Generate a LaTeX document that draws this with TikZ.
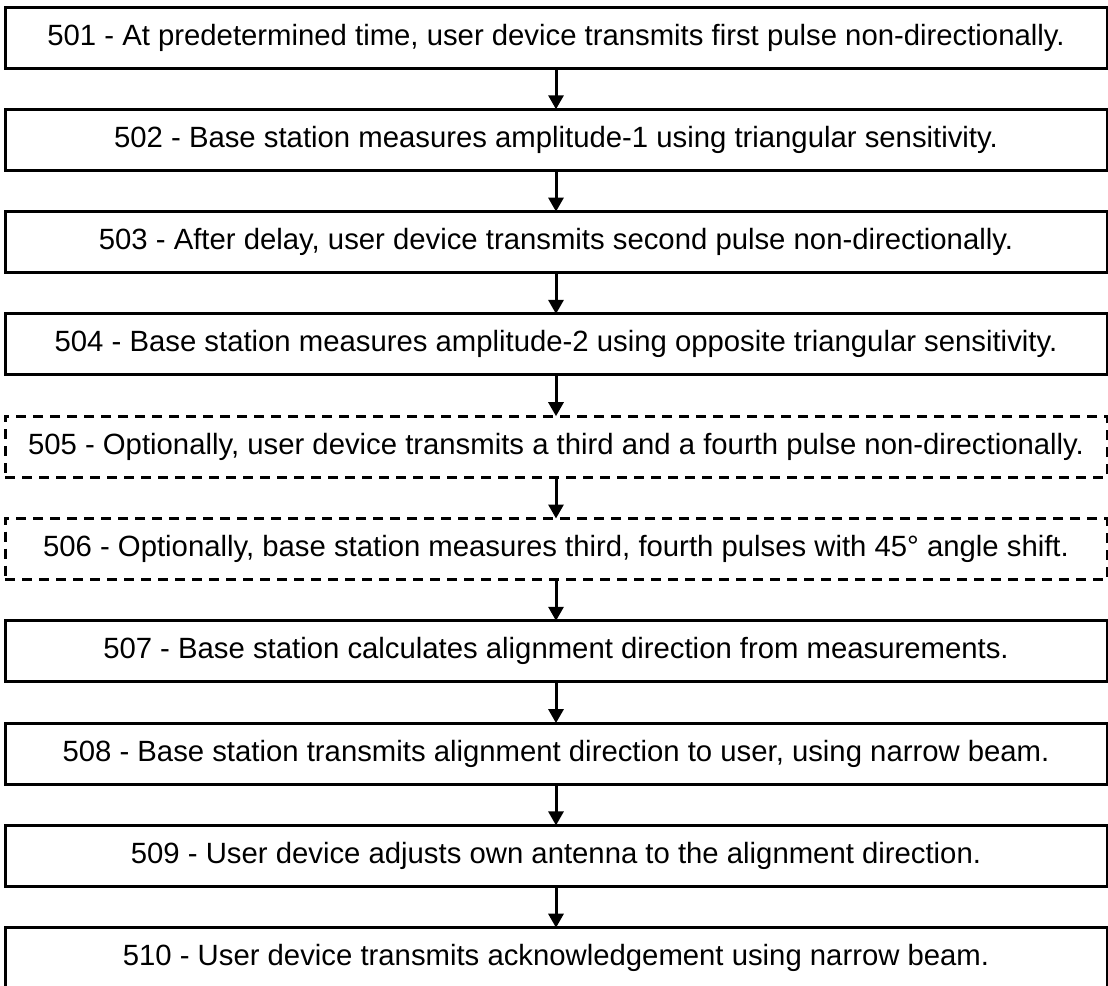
\documentclass[tikz,border=0pt]{standalone}
\usepackage{fontspec}
\setmainfont{Liberation Sans}
\usetikzlibrary{arrows.meta,positioning}

\tikzset{
  stepbox/.style={draw,line width=3pt,minimum width=1102pt,minimum height=61pt,
    inner sep=0pt,outer sep=0pt,font=\fontsize{29.3}{34}\selectfont},
  optbox/.style={stepbox,dash pattern=on 10pt off 7pt},
  flow/.style={line width=3pt,-{Triangle[width=15pt,length=14pt]}}
}

\begin{document}
\begin{tikzpicture}[x=1pt,y=1pt,node distance=41.3pt]
\useasboundingbox (0,0) rectangle (1108,-985);
% steps
\node[stepbox] (s501) at (556,-37.5) {501 - At predetermined time, user device transmits first pulse non-directionally.};
\node[stepbox,below=of s501] (s502) {502 - Base station measures amplitude-1 using triangular sensitivity.};
\node[stepbox,below=of s502] (s503) {503 - After delay, user device transmits second pulse non-directionally.};
\node[stepbox,below=of s503] (s504) {504 - Base station measures amplitude-2 using opposite triangular sensitivity.};
\node[optbox,below=of s504] (s505) {505 - Optionally, user device transmits a third and a fourth pulse non-directionally.};
\node[optbox,below=of s505] (s506) {506 - Optionally, base station measures third, fourth pulses with 45° angle shift.};
\node[stepbox,below=of s506] (s507) {507 - Base station calculates alignment direction from measurements.};
\node[stepbox,below=of s507] (s508) {508 - Base station transmits alignment direction to user, using narrow beam.};
\node[stepbox,below=of s508] (s509) {509 - User device adjusts own antenna to the alignment direction.};
\node[stepbox,below=of s509] (s510) {510 - User device transmits acknowledgement using narrow beam.};
% arrows
\foreach \a/\b in {501/502,502/503,503/504,504/505,505/506,506/507,507/508,508/509,509/510}
  \draw[flow] (s\a) -- (s\b);
\end{tikzpicture}
\end{document}
